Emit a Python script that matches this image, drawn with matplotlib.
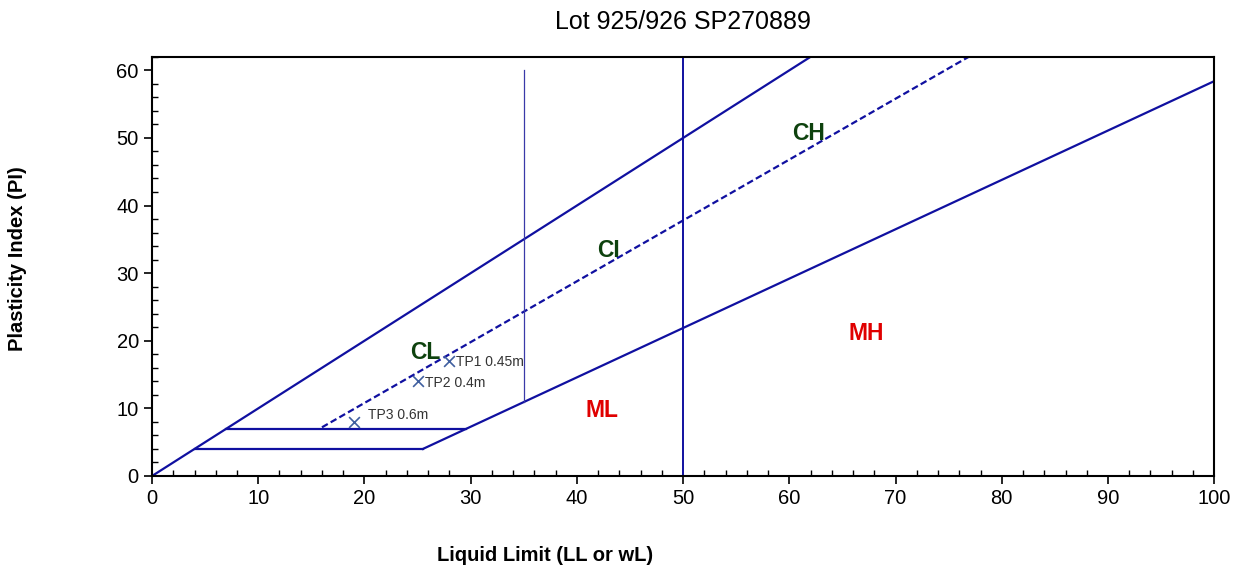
import numpy as np
import matplotlib.pyplot as plt
from matplotlib.ticker import MultipleLocator

plt.rcParams['font.family'] = ['Liberation Sans', 'DejaVu Sans']

# chart lines (LL, PI)
u_line_x = [0, 62]
u_line_y = [0, 62]
a_line_x = [25.5, 100]
a_line_y = [4, 58.4]
dash_x = [16, 77]
dash_y = [7.2, 62.1]
h7_x = [7, 29.6]
h7_y = [7, 7]
h4_x = [4, 25.5]
h4_y = [4, 4]
v50_x = [50, 50]
v50_y = [0, 62]
v35_x = [35, 35]
v35_y = [11, 60]

# test points
samples = ["TP1 0.45m", "TP2 0.4m", "TP3 0.6m"]
ll = [28, 25, 19]
pi = [17, 14, 8]

# zone labels
zones = ["CL", "CI", "CH", "ML", "MH"]
zone_x = [25.7, 43.0, 61.8, 42.4, 67.2]
zone_y = [18.2, 33.4, 50.7, 9.7, 21.1]
zone_col = ["#0e420e", "#0e420e", "#0e420e", "#e00000", "#e00000"]

fig = plt.figure(figsize=(12.38, 5.68), dpi=100)
ax = fig.add_axes([0.1228, 0.162, 0.858, 0.738])

navy = "#1010a0"
ax.plot(u_line_x, u_line_y, color=navy, lw=1.6)
ax.plot(a_line_x, a_line_y, color=navy, lw=1.6)
ax.plot(dash_x, dash_y, color=navy, lw=1.6, ls=(0, (3, 1.5)))
ax.plot(h7_x, h7_y, color=navy, lw=1.6)
ax.plot(h4_x, h4_y, color=navy, lw=1.6)
ax.plot(v50_x, v50_y, color=navy, lw=1.4)
ax.plot(v35_x, v35_y, color="#3a3aa8", lw=0.9)

ax.scatter(ll, pi, marker="x", color="#3f5f9f", s=60, linewidths=1.2, zorder=5)
offsets = [(5, -1), (5, -1), (10, 5)]
for name, x, y, off in zip(samples, ll, pi, offsets):
    ax.annotate(name, (x, y), xytext=off, textcoords="offset points",
                fontsize=10, color="#333333", va="center", ha="left")

for z, x, y, c in zip(zones, zone_x, zone_y, zone_col):
    ax.text(x, y, z, color=c, fontsize=16.5, fontweight="bold", ha="center", va="center")

ax.set_xlim(0, 100)
ax.set_ylim(0, 62)
ax.xaxis.set_major_locator(MultipleLocator(10))
ax.xaxis.set_minor_locator(MultipleLocator(2))
ax.yaxis.set_major_locator(MultipleLocator(10))
ax.yaxis.set_minor_locator(MultipleLocator(2))
ax.tick_params(which="major", direction="out", length=6, width=1.2, labelsize=14.5)
ax.tick_params(which="minor", direction="in", length=4, width=1)
for s in ax.spines.values():
    s.set_linewidth(1.5)

ax.set_title("Lot 925/926 SP270889", fontsize=18, pad=20)
fig.text(0.44, 0.006, "Liquid Limit (LL or wL)", fontsize=14.5, fontweight="bold",
         ha="center", va="bottom")
fig.text(0.014, 0.545, "Plasticity Index (PI)", fontsize=14.5, fontweight="bold",
         rotation=90, va="center", ha="center")

fig.savefig("out.png", dpi=100)
